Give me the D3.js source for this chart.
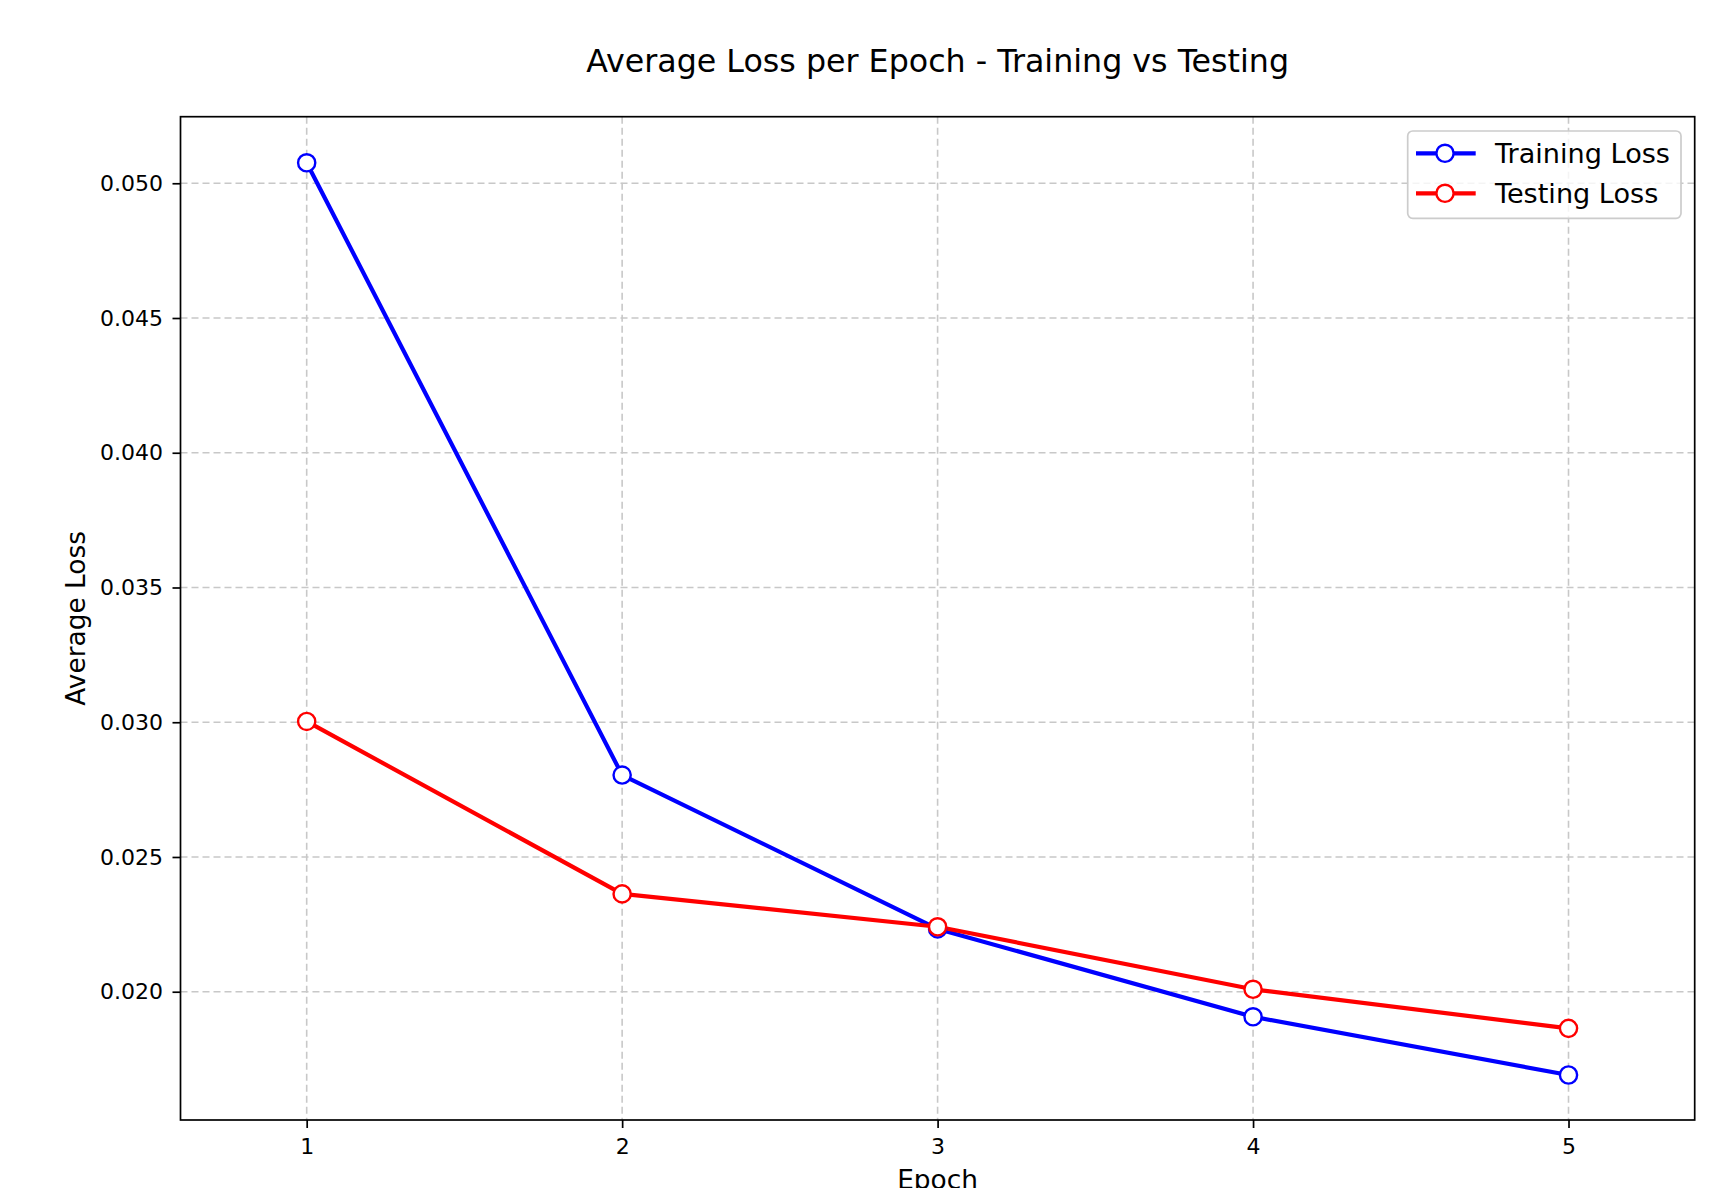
<!DOCTYPE html>
<html>
<head>
<meta charset="utf-8">
<script src="https://cdn.jsdelivr.net/npm/d3@7"></script>
<style>
  body { margin: 0; background: #fff; }
  svg { display: block; font-family: "DejaVu Sans", sans-serif; }
</style>
</head>
<body>
<div id="chart"></div>
<script>
// values
const epochs = [1, 2, 3, 4, 5];
const trainingLoss = [0.05076, 0.02804, 0.02233, 0.01907, 0.01691];
const testingLoss = [0.03003, 0.02363, 0.02241, 0.02009, 0.01864];
const yTicks = [0.02, 0.025, 0.03, 0.035, 0.04, 0.045, 0.05];
const seriesNames = ["Training Loss", "Testing Loss"];
const seriesColors = ["#0000ff", "#ff0000"];

const W = 1736, H = 1188;
const plot = { left: 180.5, right: 1694.7, top: 116.7, bottom: 1120 };

const svg = d3
  .select("#chart")
  .append("svg")
  .attr("width", W)
  .attr("height", H);

// scales
const x = d3.scaleLinear().domain([0.6, 5.4]).range([plot.left, plot.right]);
const y = d3.scaleLinear().domain([0.01524, 0.05247]).range([plot.bottom, plot.top]);

// grid (dashed, light grey)
const grid = svg.append("g").attr("class", "grid");
grid
  .selectAll(".vgrid")
  .data(epochs)
  .enter()
  .append("line")
  .attr("x1", (d) => x(d))
  .attr("x2", (d) => x(d))
  .attr("y1", plot.top)
  .attr("y2", plot.bottom)
  .attr("stroke", "#c8c8c8")
  .attr("stroke-width", 1.6)
  .attr("stroke-dasharray", "7,4");
grid
  .selectAll(".hgrid")
  .data(yTicks)
  .enter()
  .append("line")
  .attr("x1", plot.left)
  .attr("x2", plot.right)
  .attr("y1", (d) => y(d))
  .attr("y2", (d) => y(d))
  .attr("stroke", "#c8c8c8")
  .attr("stroke-width", 1.6)
  .attr("stroke-dasharray", "7,4");

// lines + markers
const series = [trainingLoss, testingLoss];
const line = d3
  .line()
  .x((d, i) => x(epochs[i]))
  .y((d) => y(d));

series.forEach((vals, s) => {
  svg
    .append("path")
    .datum(vals)
    .attr("fill", "none")
    .attr("stroke", seriesColors[s])
    .attr("stroke-width", 4.2)
    .attr("stroke-linejoin", "round")
    .attr("stroke-linecap", "butt")
    .attr("d", line);
});
series.forEach((vals, s) => {
  svg
    .append("g")
    .selectAll("circle")
    .data(vals)
    .enter()
    .append("circle")
    .attr("cx", (d, i) => x(epochs[i]))
    .attr("cy", (d) => y(d))
    .attr("r", 8.6)
    .attr("fill", "#fff")
    .attr("stroke", seriesColors[s])
    .attr("stroke-width", 2.4);
});

// axes
const xAxis = svg
  .append("g")
  .attr("transform", "translate(0," + plot.bottom + ")")
  .call(d3.axisBottom(x).tickValues(epochs).tickSize(8).tickPadding(10).tickFormat(d3.format("d")));
const yAxis = svg
  .append("g")
  .attr("transform", "translate(" + plot.left + ",0)")
  .call(d3.axisLeft(y).tickValues(yTicks).tickSize(8).tickPadding(9.5).tickFormat(d3.format(".3f")));

[xAxis, yAxis].forEach((ax) => {
  ax.select(".domain").remove();
  ax.selectAll(".tick line").attr("stroke", "#000").attr("stroke-width", 1.7);
  ax.selectAll(".tick text")
    .attr("fill", "#000")
    .style("font-size", "22px")
    .style("font-family", "DejaVu Sans");
});

// frame
svg
  .append("rect")
  .attr("x", plot.left)
  .attr("y", plot.top)
  .attr("width", plot.right - plot.left)
  .attr("height", plot.bottom - plot.top)
  .attr("fill", "none")
  .attr("stroke", "#000")
  .attr("stroke-width", 1.7);

// title and axis labels
svg
  .append("text")
  .attr("x", (plot.left + plot.right) / 2)
  .attr("y", 71.7)
  .attr("text-anchor", "middle")
  .style("font-size", "31.7px")
  .text("Average Loss per Epoch - Training vs Testing");

// the reference crops this label at the bottom edge too
svg
  .append("text")
  .attr("x", (plot.left + plot.right) / 2)
  .attr("y", 1188.5)
  .attr("text-anchor", "middle")
  .style("font-size", "26.4px")
  .text("Epoch");

svg
  .append("text")
  .attr("transform", "translate(85," + (plot.top + plot.bottom) / 2 + ") rotate(-90)")
  .attr("text-anchor", "middle")
  .style("font-size", "26.4px")
  .text("Average Loss");

// legend
const legend = svg.append("g").attr("transform", "translate(1407.7,131)");
legend
  .append("rect")
  .attr("width", 273.3)
  .attr("height", 87.3)
  .attr("rx", 5)
  .attr("fill", "#fff")
  .attr("fill-opacity", 0.8)
  .attr("stroke", "#cccccc")
  .attr("stroke-width", 1.7);

seriesNames.forEach((name, i) => {
  const row = legend.append("g").attr("transform", "translate(0," + (22.3 + i * 40) + ")");
  row
    .append("line")
    .attr("x1", 8.3)
    .attr("x2", 68)
    .attr("stroke", seriesColors[i])
    .attr("stroke-width", 4.2);
  row
    .append("circle")
    .attr("cx", 37.3)
    .attr("r", 8.6)
    .attr("fill", "#fff")
    .attr("stroke", seriesColors[i])
    .attr("stroke-width", 2.4);
  row
    .append("text")
    .attr("x", 87.3)
    .attr("dy", "0.36em")
    .style("font-size", "27.1px")
    .text(name);
});
</script>
</body>
</html>
